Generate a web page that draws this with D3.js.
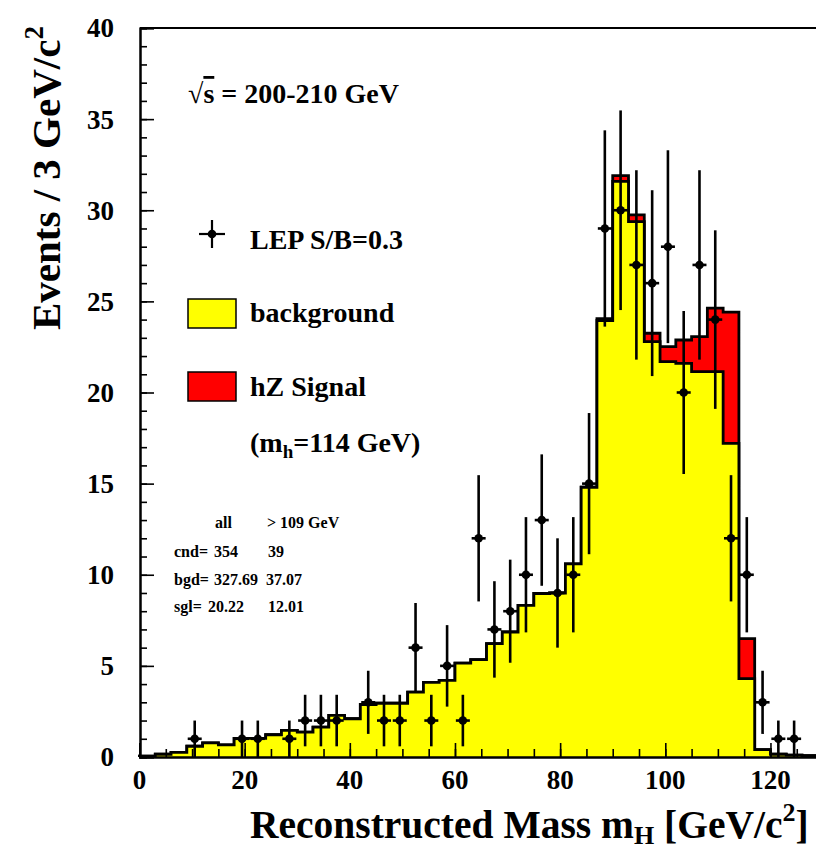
<!DOCTYPE html>
<html>
<head>
<meta charset="utf-8">
<script src="https://cdn.jsdelivr.net/npm/d3@7"></script>
<style>
  body { margin: 0; background: #fff; }
  svg { display: block; }
  text { font-family: "Liberation Serif", "Times New Roman", serif; font-weight: bold; fill: #000; }
</style>
</head>
<body>
<svg id="chart" width="816" height="849"></svg>
<script>
// Reconstructed Higgs mass, 3 GeV bins (lower edge of each bin)
const binLow = [0,3,6,9,12,15,18,21,24,27,30,33,36,39,42,45,48,51,54,57,60,63,66,69,72,75,78,81,84,87,90,93,96,99,102,105,108,111,114,117,120,123,126];
const binWidth = 3;

// Expected Standard Model background per bin
const background = [0.05,0.15,0.25,0.59,0.78,0.67,1.02,1.02,1.22,1.46,1.36,1.64,2.28,2.10,2.88,2.95,2.95,3.56,4.10,4.20,5.15,5.34,6.22,6.86,8.32,8.97,9.00,10.60,14.80,23.95,31.58,29.38,22.79,21.69,21.60,21.14,21.14,17.21,4.30,0.40,0.15,0.10,0.08];

// Expected hZ signal for m_h = 114 GeV, stacked on the background
const signal = [0,0,0,0,0,0,0,0,0,0,0,0,0,0,0,0,0,0,0,0,0,0,0,0,0,0,0,0,0,0.10,0.32,0.37,0.46,0.83,1.28,1.93,3.49,7.20,2.19,0,0,0,0];

// Selected candidate events per bin
const observed = [0,0,0,1,0,0,1,1,0,1,2,2,2,0,3,2,2,6,2,5,2,12,7,8,10,13,9,10,15,29,30,27,26,28,20,27,24,12,10,3,1,1,0];

const xTickValues = [0,20,40,60,80,100,120];
const yTickValues = [0,5,10,15,20,25,30,35,40];

// Summary table
const tableHeader = ["all", "> 109 GeV"];
const tableRowNames = ["cnd=", "bgd=", "sgl="];
const tableAll = ["354", "327.69", "20.22"];
const tableCut = ["39", "37.07", "12.01"];

const legendLabels = ["LEP S/B=0.3", "background", "hZ Signal"];

(function draw() {
  const svg = d3.select("#chart");
  const W = 816;
  const plotLeft = 140, plotTop = 28, plotBottom = 757;

  const x = d3.scaleLinear().domain([0, 130]).range([139.5, 139.5 + 130 * 5.258]);
  const y = d3.scaleLinear().domain([0, 40]).range([plotBottom, plotTop]);

  const YELLOW = "#ffff00", RED = "#ff0000";

  // Histogram step outlines
  function stepPoints(vals) {
    const pts = [[binLow[0], 0]];
    vals.forEach((v, i) => pts.push([binLow[i], v]));
    const last = vals.length - 1;
    pts.push([binLow[last] + binWidth, vals[last]]);
    return pts;
  }
  const area = d3.area().x(d => x(d[0])).y0(y(0)).y1(d => y(d[1])).curve(d3.curveStepAfter);
  const line = d3.line().x(d => x(d[0])).y(d => y(d[1])).curve(d3.curveStepAfter);

  const total = background.map((b, i) => b + signal[i]);

  const hist = svg.append("g");
  hist.append("path").attr("d", area(stepPoints(total))).attr("fill", RED);
  hist.append("path").attr("d", line(stepPoints(total))).attr("fill", "none").attr("stroke", "#000").attr("stroke-width", 2.8);
  hist.append("path").attr("d", area(stepPoints(background))).attr("fill", YELLOW);
  hist.append("path").attr("d", line(stepPoints(background))).attr("fill", "none").attr("stroke", "#000").attr("stroke-width", 2.8);

  // Frame and inward ticks
  const axes = svg.append("g");
  axes.append("line").attr("x1", plotLeft).attr("x2", W).attr("y1", plotTop).attr("y2", plotTop).attr("stroke", "#000").attr("stroke-width", 2);

  const yMinor = d3.axisRight(y).tickValues(d3.range(0, 41, 1)).tickSize(7).tickFormat("");
  const yMajor = d3.axisRight(y).tickValues(yTickValues).tickSize(14).tickFormat("");
  const gy1 = axes.append("g").attr("transform", `translate(${plotLeft},0)`).call(yMinor);
  const gy2 = axes.append("g").attr("transform", `translate(${plotLeft},0)`).call(yMajor);
  const xMinor = d3.axisTop(x).tickValues(d3.range(0, 130, 5)).tickSize(8).tickFormat("");
  const xMajor = d3.axisTop(x).tickValues(xTickValues).tickSize(14).tickFormat("");
  const gx1 = axes.append("g").attr("transform", `translate(0,${plotBottom})`).call(xMinor);
  const gx2 = axes.append("g").attr("transform", `translate(0,${plotBottom})`).call(xMajor);
  [gy1, gy2, gx1, gx2].forEach(g => {
    g.selectAll(".domain").attr("stroke", "#000").attr("stroke-width", 2);
    g.selectAll(".tick line").attr("stroke", "#000").attr("stroke-width", 1.6);
  });

  // Tick labels
  svg.append("g").selectAll("text").data(yTickValues).join("text")
    .attr("x", 114).attr("y", d => y(d)).attr("dy", "0.35em")
    .attr("text-anchor", "end").attr("font-size", 27).text(d => d);
  svg.append("g").selectAll("text").data(xTickValues).join("text")
    .attr("x", d => x(d)).attr("y", 789)
    .attr("text-anchor", "middle").attr("font-size", 27).text(d => d);

  // Axis titles
  const xt = svg.append("text").attr("x", 250).attr("y", 838).attr("font-size", 39.5);
  xt.append("tspan").text("Reconstructed Mass m");
  xt.append("tspan").attr("font-size", 26).attr("dy", 6).text("H");
  xt.append("tspan").attr("dy", -6).text(" [GeV/c");
  xt.append("tspan").attr("font-size", 26).attr("dy", -17).text("2");
  xt.append("tspan").attr("dy", 17).text("]");

  const yt = svg.append("text").attr("transform", "translate(60,330) rotate(-90)").attr("font-size", 41);
  yt.append("tspan").text("Events / 3 GeV/c");
  yt.append("tspan").attr("font-size", 27).attr("dy", -17).text("2");

  // Observed data with Poisson error bars
  const pts = svg.append("g");
  observed.forEach((n, i) => {
    if (n <= 0) return;
    const cx = x(binLow[i] + binWidth / 2), cy = y(n), e = Math.sqrt(n);
    pts.append("line").attr("x1", cx).attr("x2", cx).attr("y1", y(n - e)).attr("y2", y(n + e))
      .attr("stroke", "#000").attr("stroke-width", 2.6);
    pts.append("line").attr("x1", cx - 7).attr("x2", cx + 7).attr("y1", cy).attr("y2", cy)
      .attr("stroke", "#000").attr("stroke-width", 2.6);
    pts.append("circle").attr("cx", cx).attr("cy", cy).attr("r", 4.3).attr("fill", "#000");
  });

  // Energy label
  const es = svg.append("text").attr("x", 188).attr("y", 103).attr("font-size", 28);
  es.append("tspan").text("\u221A");
  es.append("tspan").attr("text-decoration", "overline").text("s");
  es.append("tspan").text(" = 200-210 GeV");

  // Legend
  const lg = svg.append("g");
  lg.append("line").attr("x1", 212).attr("x2", 212).attr("y1", 220).attr("y2", 248).attr("stroke", "#000").attr("stroke-width", 2.2);
  lg.append("line").attr("x1", 199).attr("x2", 225).attr("y1", 234).attr("y2", 234).attr("stroke", "#000").attr("stroke-width", 2.2);
  lg.append("circle").attr("cx", 212).attr("cy", 234).attr("r", 4.3).attr("fill", "#000");
  lg.append("text").attr("x", 250).attr("y", 249).attr("font-size", 28).text(legendLabels[0]);

  lg.append("rect").attr("x", 188).attr("y", 299).attr("width", 48).attr("height", 29).attr("fill", YELLOW).attr("stroke", "#000").attr("stroke-width", 1.5);
  lg.append("text").attr("x", 250).attr("y", 322).attr("font-size", 28).text(legendLabels[1]);

  lg.append("rect").attr("x", 188).attr("y", 372).attr("width", 48).attr("height", 29).attr("fill", RED).attr("stroke", "#000").attr("stroke-width", 1.5);
  lg.append("text").attr("x", 250).attr("y", 396).attr("font-size", 28).text(legendLabels[2]);

  const mh = lg.append("text").attr("x", 250).attr("y", 452).attr("font-size", 28);
  mh.append("tspan").text("(m");
  mh.append("tspan").attr("font-size", 19).attr("dy", 6).text("h");
  mh.append("tspan").attr("dy", -6).text("=114 GeV)");

  // Event count table
  const tb = svg.append("g");
  tb.append("text").attr("x", 215).attr("y", 528).attr("font-size", 16).text(tableHeader[0]);
  tb.append("text").attr("x", 267).attr("y", 528).attr("font-size", 16).text(tableHeader[1]);
  const rowY = [557, 585, 612];
  const allX = [214, 214, 208];
  const cutX = [268, 266, 268];
  tableRowNames.forEach((r, i) => {
    tb.append("text").attr("x", 174).attr("y", rowY[i]).attr("font-size", 16).text(r);
    tb.append("text").attr("x", allX[i]).attr("y", rowY[i]).attr("font-size", 16).text(tableAll[i]);
    tb.append("text").attr("x", cutX[i]).attr("y", rowY[i]).attr("font-size", 16).text(tableCut[i]);
  });
})();
</script>
</body>
</html>
